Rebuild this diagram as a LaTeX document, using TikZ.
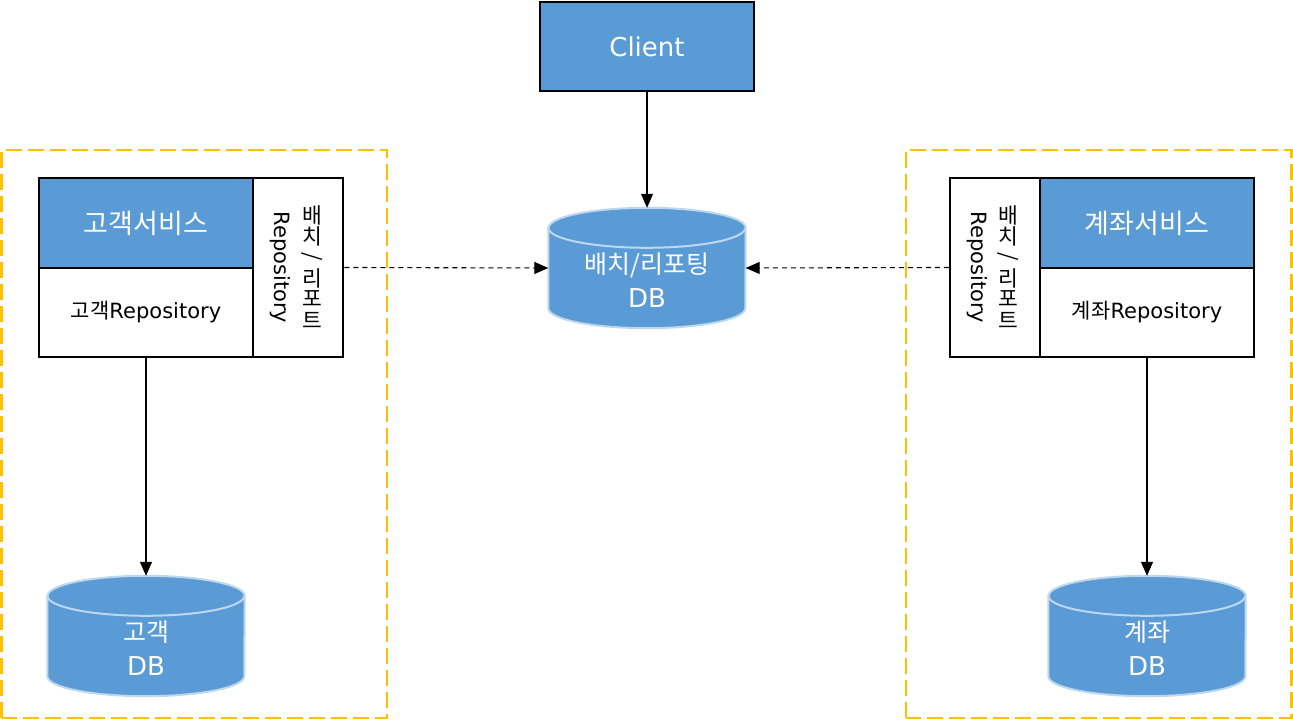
\documentclass[tikz,border=0pt]{standalone}
\usepackage{fontspec}
\setmainfont{DejaVu Sans}
\newfontfamily\kr{Noto Sans CJK KR}
\usetikzlibrary{arrows.meta,calc}
\definecolor{boxblue}{HTML}{5B9BD5}
\definecolor{dbedge}{HTML}{BDD7EE}
\definecolor{frameorange}{HTML}{FFC000}
\tikzset{
  x=1pt,y=1pt,
  frame/.style={draw=frameorange,line width=2.6pt,dash pattern=on 16pt off 6pt},
  bluebox/.style={draw=black,line width=2.5pt,fill=boxblue,text=white,inner sep=0pt,
    font=\fontsize{26}{30}\selectfont},
  korhead/.style={font=\kr\fontsize{27}{30}\selectfont},
  whitebox/.style={draw=black,line width=2.5pt,fill=white,inner sep=0pt,
    font=\fontsize{21}{24}\selectfont},
  dbbox/.style={inner sep=0pt,minimum width=197pt,minimum height=120pt},
  dbfill/.style={fill=boxblue,draw=dbedge,line width=2pt},
  dbtext/.style={text=white,align=center,font=\fontsize{26}{34}\selectfont,inner sep=0pt},
  arr/.style={-{Triangle[length=14pt,width=12pt]},line width=1.1pt,black},
  dasharr/.style={arr,dash pattern=on 5pt off 4pt},
  vkr/.style={font=\kr\fontsize{21.5}{22}\selectfont,inner sep=0pt,anchor=center},
  vrep/.style={font=\fontsize{21}{24}\selectfont,rotate=-90,inner sep=0pt}
}
\newcommand\dbcyl[4]{%
  \node[dbbox] (#1) at (#2,#3) {};
  \filldraw[dbfill] ([yshift=-20pt]#1.north west) -- ([yshift=20pt]#1.south west)
    arc[start angle=180,end angle=360,x radius=98.5pt,y radius=20pt]
    -- ([yshift=-20pt]#1.north east)
    arc[start angle=0,end angle=180,x radius=98.5pt,y radius=20pt] -- cycle;
  \draw[draw=dbedge,line width=2pt] ([yshift=-20pt]#1.north west)
    arc[start angle=180,end angle=360,x radius=98.5pt,y radius=20pt];
  \node[dbtext] (#1t) at ([yshift=-12pt]#1.center) {#4};
}
% vertical Korean column: name prefix, x
\newcommand\vcol[2]{%
  \node[vkr] (#1a) at (#2,505) {배};
  \node[vkr] (#1b) at (#2,484) {치};
  \node[vkr,rotate=-90] (#1c) at (#2,463) {/};
  \node[vkr] (#1d) at (#2,442) {리};
  \node[vkr] (#1e) at (#2,421) {포};
  \node[vkr] (#1f) at (#2,400) {트};
}
\begin{document}
\begin{tikzpicture}
\useasboundingbox (0,0) rectangle (1293,720);
% frames
\draw[frame] (1.5,2) rectangle (387,570);
\draw[frame] (906,2) rectangle (1291.5,570);
% client
\node[bluebox,minimum width=214pt,minimum height=89pt] (client) at (647,673.5) {Client};
% left service
\node[bluebox,korhead,minimum width=214pt,minimum height=90pt] (lh) at (146,497) {고객서비스};
\node[whitebox,minimum width=214pt,minimum height=89pt] (lrepo) at (146,407.5) {{\kr 고객}Repository};
\node[whitebox,minimum width=90pt,minimum height=179pt] (lcol) at (298,452.5) {};
\vcol{lk}{312}
\node[vrep] (lcolr) at (280,452.5) {Repository};
% right service
\node[whitebox,minimum width=90pt,minimum height=179pt] (rcol) at (995,452.5) {};
\vcol{rk}{1008}
\node[vrep] (rcolr) at (977,452.5) {Repository};
\node[bluebox,korhead,minimum width=214pt,minimum height=90pt] (rh) at (1147,497) {계좌서비스};
\node[whitebox,minimum width=214pt,minimum height=89pt] (rrepo) at (1147,407.5) {{\kr 계좌}Repository};
% databases
\dbcyl{cdb}{647}{452}{{\kr\fontsize{25}{34}\selectfont 배치/리포팅}\\DB}
\dbcyl{ldb}{146}{84}{{\kr\fontsize{25}{34}\selectfont 고객}\\DB}
\dbcyl{rdb}{1147}{84}{{\kr\fontsize{25}{34}\selectfont 계좌}\\DB}
% connectors
\draw[arr] (client.south) -- (cdb.north);
\draw[dasharr] (lcol.east) -- (cdb.west);
\draw[dasharr] (rcol.west) -- (cdb.east);
\draw[arr] (lrepo.south) -- (ldb.north);
\draw[arr] (rrepo.south) -- (rdb.north);
\end{tikzpicture}
\end{document}
